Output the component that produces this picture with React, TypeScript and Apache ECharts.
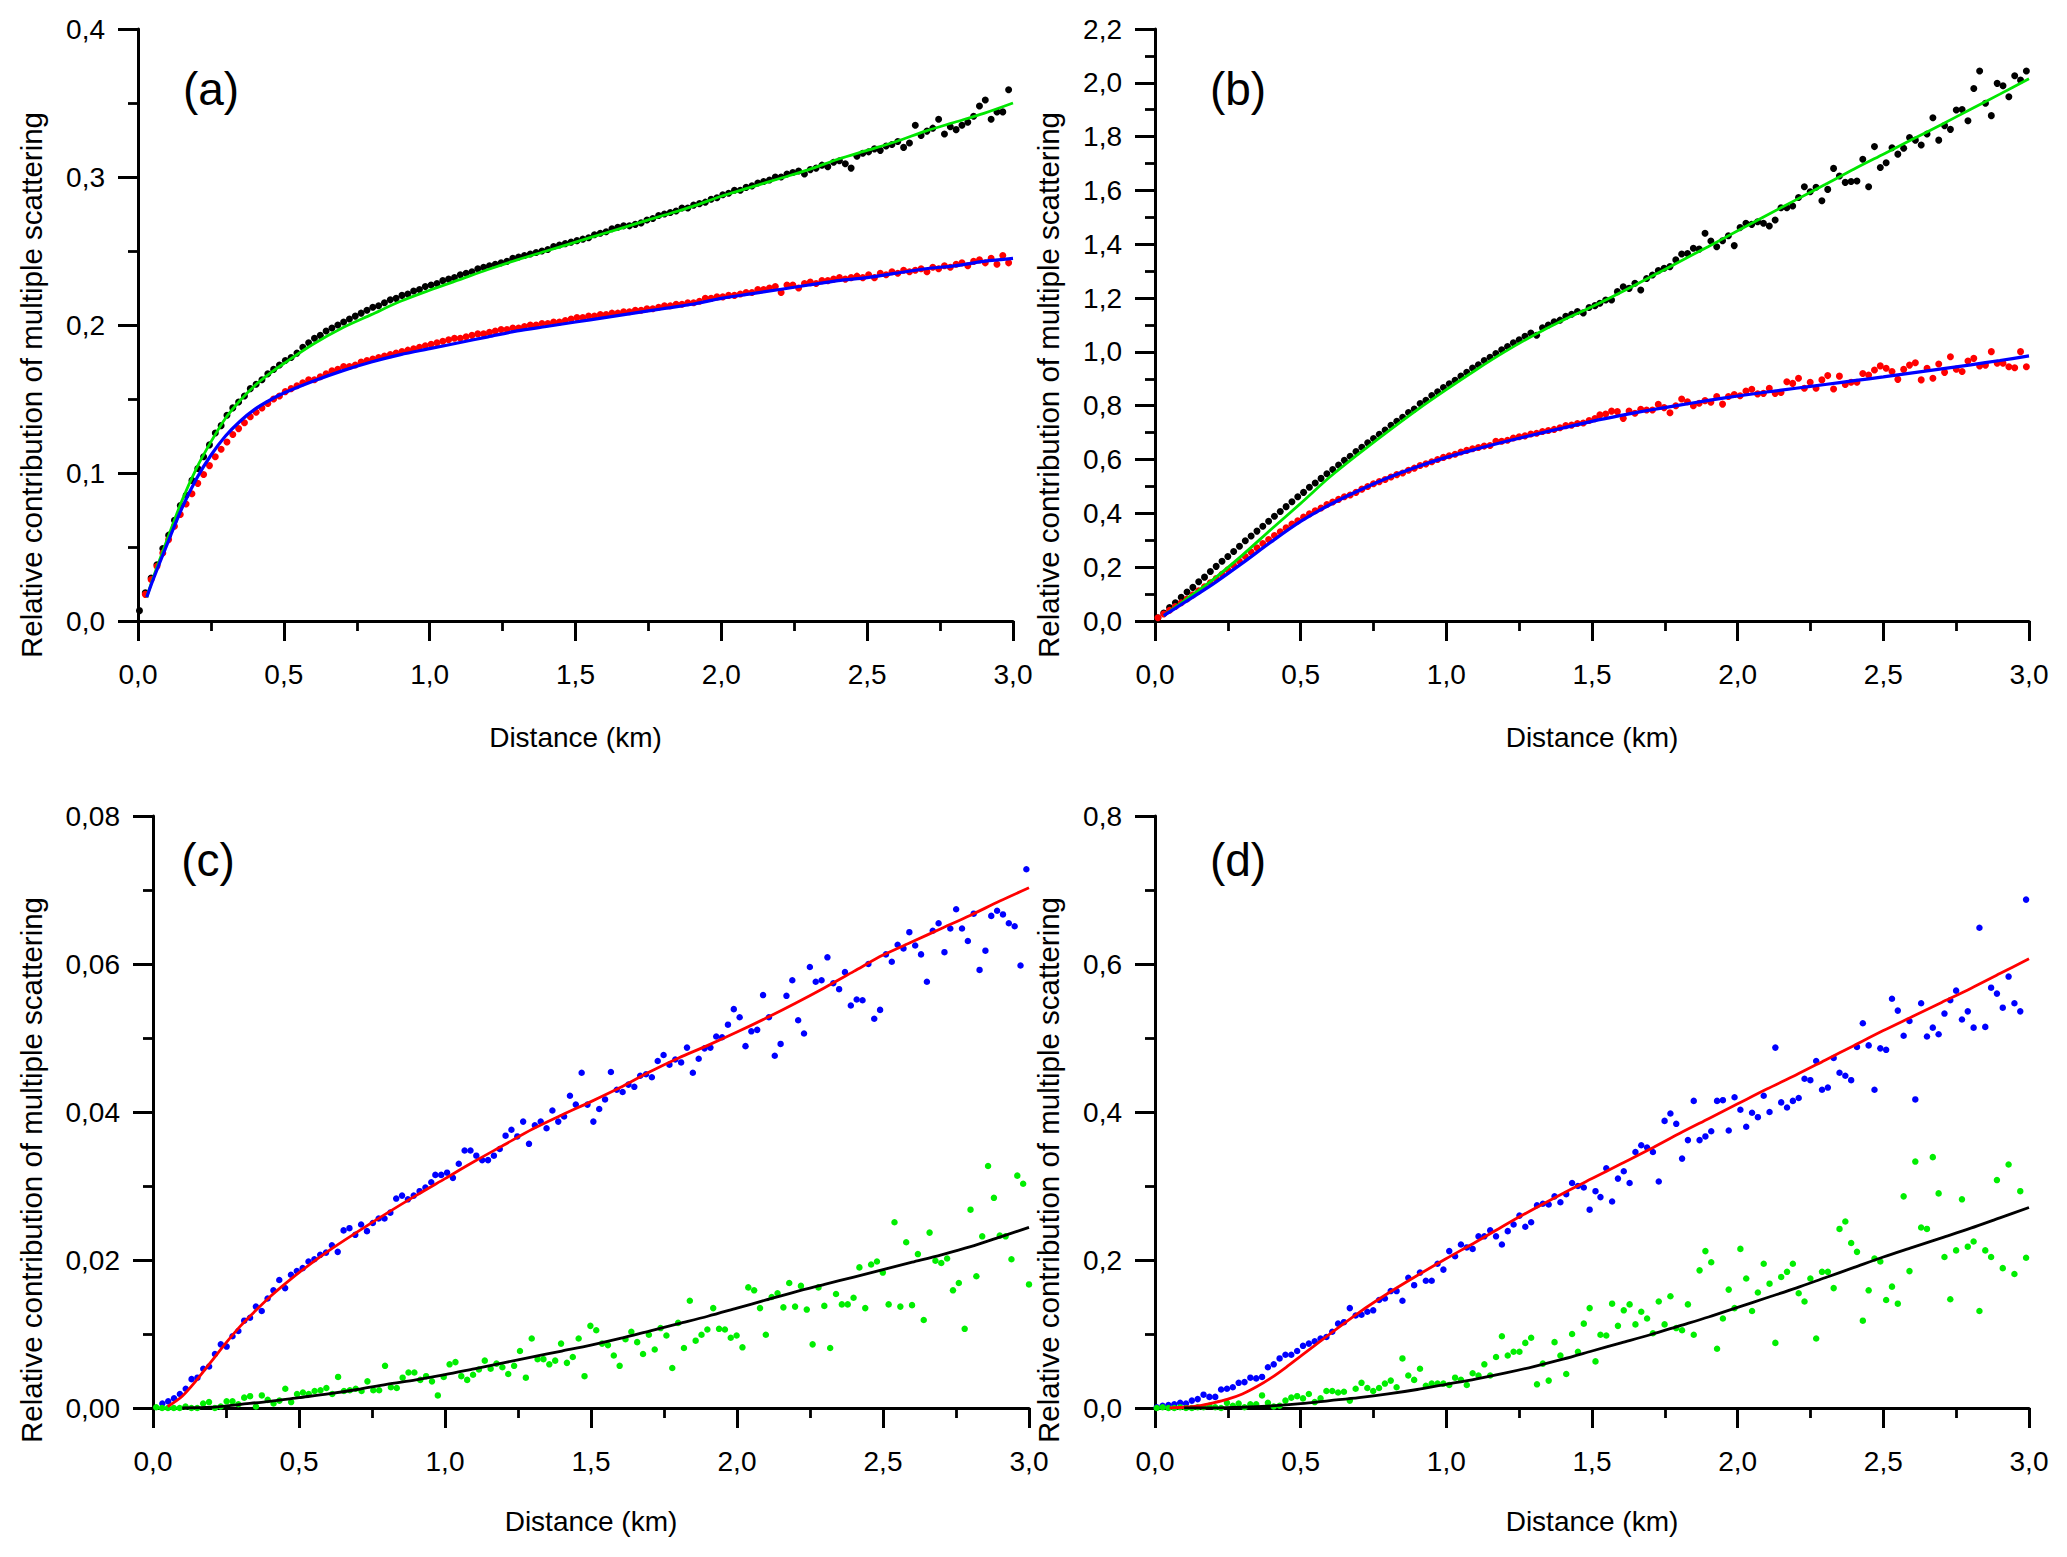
import React, { useEffect, useRef } from "react";
import * as echarts from "echarts";

const FONT = "'Liberation Sans', Arial, Helvetica, sans-serif";

// ---------- tick labels ----------
const X_LABELS = ["0,0", "0,5", "1,0", "1,5", "2,0", "2,5", "3,0"];
const Y_LABELS_A = ["0,0", "0,1", "0,2", "0,3", "0,4"];
const Y_LABELS_B = ["0,0", "0,2", "0,4", "0,6", "0,8", "1,0", "1,2", "1,4", "1,6", "1,8", "2,0", "2,2"];
const Y_LABELS_C = ["0,00", "0,02", "0,04", "0,06", "0,08"];
const Y_LABELS_D = ["0,0", "0,2", "0,4", "0,6", "0,8"];

const X_TITLE = "Distance (km)";
const Y_TITLE = "Relative contribution of multiple scattering";
const PANEL_LABELS = ["(a)", "(b)", "(c)", "(d)"];

// ---------- panel (a) ----------
const A_BLACK = [0.007,0.019,0.029,0.038,0.049,0.058,0.068,0.078,0.085,0.095,
0.103,0.111,0.119,0.127,0.132,0.139,0.144,0.148,0.152,0.157,
0.160,0.163,0.167,0.170,0.173,0.176,0.178,0.181,0.185,0.188,
0.191,0.193,0.196,0.198,0.200,0.202,0.204,0.206,0.208,0.210,
0.212,0.213,0.215,0.217,0.218,0.220,0.221,0.223,0.224,0.226,
0.227,0.228,0.230,0.231,0.232,0.234,0.235,0.236,0.238,0.239,
0.240,0.241,0.242,0.243,0.245,0.246,0.247,0.248,0.249,0.250,
0.251,0.253,0.254,0.255,0.256,0.257,0.258,0.259,0.261,0.262,
0.263,0.265,0.266,0.267,0.267,0.268,0.269,0.271,0.272,0.274,
0.275,0.276,0.277,0.279,0.279,0.281,0.282,0.283,0.285,0.286,
0.288,0.289,0.291,0.291,0.293,0.294,0.296,0.297,0.298,0.300,
0.300,0.302,0.303,0.304,0.302,0.305,0.306,0.308,0.307,0.310,
0.311,0.309,0.306,0.314,0.316,0.317,0.319,0.318,0.321,0.322,
0.324,0.320,0.323,0.335,0.328,0.331,0.333,0.339,0.329,0.334,
0.332,0.335,0.337,0.341,0.348,0.352,0.339,0.344,0.344,0.359];
const A_RED = [0.018,0.028,0.037,0.046,0.055,0.064,0.072,0.079,0.086,0.093,
0.099,0.105,0.111,0.116,0.121,0.126,0.130,0.134,0.138,0.141,
0.144,0.147,0.150,0.152,0.155,0.157,0.159,0.161,0.163,0.163,
0.165,0.167,0.169,0.170,0.172,0.172,0.173,0.175,0.176,0.177,
0.178,0.179,0.180,0.181,0.182,0.183,0.184,0.185,0.186,0.187,
0.188,0.189,0.190,0.191,0.191,0.192,0.193,0.194,0.194,0.195,
0.196,0.197,0.197,0.198,0.198,0.199,0.200,0.200,0.201,0.201,
0.202,0.202,0.203,0.204,0.205,0.205,0.206,0.206,0.207,0.207,
0.208,0.208,0.209,0.209,0.210,0.210,0.211,0.211,0.212,0.213,
0.213,0.214,0.214,0.215,0.215,0.216,0.218,0.218,0.219,0.219,
0.220,0.220,0.221,0.222,0.222,0.224,0.224,0.225,0.226,0.222,
0.227,0.227,0.225,0.228,0.229,0.228,0.230,0.230,0.231,0.232,
0.231,0.232,0.233,0.232,0.234,0.232,0.235,0.234,0.236,0.235,
0.237,0.236,0.237,0.238,0.236,0.239,0.238,0.240,0.239,0.241,
0.242,0.240,0.243,0.244,0.242,0.245,0.241,0.247,0.242];
const A_FIT_X = [0.03,0.05,0.1,0.15,0.2,0.25,0.3,0.35,0.4,0.45,0.5,0.6,0.7,0.8,0.9,1.0,1.1,1.2,1.3,1.4,1.5,1.6,1.7,1.8,1.9,2.0,2.1,2.2,2.3,2.4,2.5,2.6,2.7,2.8,2.9,3.0];
const A_GREEN_FIT = [0.016,0.028,0.055,0.081,0.103,0.121,0.137,0.149,0.159,0.167,0.174,0.187,0.198,0.207,0.216,0.2235,0.2305,0.2375,0.244,0.250,0.256,0.262,0.268,0.274,0.280,0.287,0.293,0.299,0.305,0.312,0.318,0.324,0.331,0.337,0.343,0.350];
const A_BLUE_FIT = [0.016,0.027,0.052,0.076,0.096,0.112,0.125,0.135,0.143,0.149,0.154,0.162,0.169,0.175,0.180,0.184,0.188,0.192,0.196,0.199,0.202,0.205,0.208,0.211,0.214,0.218,0.221,0.224,0.227,0.230,0.232,0.235,0.238,0.240,0.243,0.245];

// ---------- panel (b) ----------
const B_BLACK_1 = [0.012,0.030,0.050,0.068,0.088,0.108,0.125,0.146,0.163,0.184,
0.203,0.222,0.240,0.258,0.278,0.298,0.316,0.334,0.352,0.371,
0.389,0.407,0.425,0.443,0.462,0.478,0.497,0.513,0.530,0.547,
0.563,0.580,0.597,0.612,0.630,0.646,0.662,0.678,0.694,0.710,
0.727,0.742,0.757,0.775,0.788,0.808,0.820,0.838,0.852,0.868,
0.882,0.895,0.910,0.924,0.940,0.952,0.968,0.980,0.994,1.008,
1.020,1.034,1.045,1.058,1.070,1.062,1.090,1.100,1.112,1.118,
1.132,1.140,1.150,1.145,1.165,1.172];
const B_BLACK_2 = [1.181,1.193,1.193,1.224,1.242,1.236,1.255,1.230,1.273,1.286,
1.302,1.311,1.317,1.342,1.364,1.366,1.385,1.382,1.441,1.412,
1.391,1.413,1.432,1.395,1.462,1.478,1.474,1.484,1.478,1.468,
1.490,1.536,1.536,1.542,1.574,1.614,1.595,1.612,1.562,1.604,
1.682,1.654,1.630,1.633,1.635,1.716,1.614,1.763,1.685,1.703,
1.759,1.735,1.757,1.797,1.787,1.769,1.810,1.870,1.787,1.841,
1.827,1.899,1.901,1.859,1.979,2.044,1.924,1.878,1.998,1.989,
1.948,2.026,2.010,2.044];
const B_RED_1 = [0.012,0.026,0.040,0.054,0.068,0.082,0.097,0.112,0.127,0.142,
0.158,0.174,0.190,0.206,0.222,0.240,0.256,0.272,0.288,0.303,
0.318,0.332,0.346,0.360,0.372,0.386,0.398,0.410,0.420,0.433,
0.442,0.452,0.462,0.468,0.478,0.490,0.500,0.510,0.518,0.526,
0.535,0.544,0.550,0.560,0.568,0.578,0.584,0.592,0.600,0.608,
0.614,0.620,0.628,0.634,0.640,0.645,0.650,0.652,0.668,0.668,
0.672,0.680,0.685,0.688,0.695,0.698,0.704,0.708,0.712,0.718,
0.726,0.728,0.734,0.736,0.745,0.752];
const B_RED_2 = [0.766,0.769,0.780,0.778,0.753,0.780,0.772,0.787,0.784,0.784,
0.805,0.793,0.774,0.800,0.825,0.815,0.800,0.809,0.819,0.813,
0.834,0.806,0.834,0.842,0.837,0.855,0.861,0.844,0.846,0.865,
0.846,0.849,0.889,0.883,0.902,0.865,0.887,0.865,0.896,0.912,
0.862,0.910,0.879,0.887,0.887,0.920,0.914,0.933,0.948,0.939,
0.927,0.898,0.935,0.951,0.960,0.896,0.939,0.902,0.955,0.924,
0.982,0.936,0.927,0.966,0.976,0.948,0.951,1.001,0.958,0.958,
0.945,0.941,1.001,0.945];
const B_FIT_X = [0.03,0.1,0.2,0.3,0.4,0.5,0.6,0.7,0.8,0.9,1.0,1.1,1.2,1.3,1.4,1.5,1.6,1.7,1.8,1.9,2.0,2.1,2.2,2.3,2.4,2.5,2.6,2.7,2.8,2.9,3.0];
const B_GREEN_FIT = [0.02,0.075,0.155,0.245,0.342,0.437,0.535,0.622,0.705,0.785,0.86,0.932,1.0,1.062,1.118,1.168,1.222,1.278,1.335,1.392,1.45,1.508,1.565,1.622,1.68,1.735,1.79,1.845,1.902,1.958,2.015];
const B_BLUE_FIT = [0.02,0.068,0.138,0.215,0.295,0.37,0.432,0.485,0.532,0.573,0.608,0.638,0.666,0.692,0.717,0.742,0.764,0.784,0.802,0.82,0.836,0.851,0.865,0.879,0.893,0.907,0.922,0.937,0.952,0.968,0.985];

// ---------- panel (c) ----------
const C_BLUE_1 = [0.0006,0.0009,0.0013,0.0019,0.0026,0.0039,0.0041,0.0053,0.0056,0.0073,
0.0086,0.0083,0.0097,0.0104,0.0118,0.0122,0.0137,0.0131,0.0148,0.0159,
0.0173,0.0162,0.0180,0.0185,0.0189,0.0198,0.0201,0.0207,0.0210,0.0220,
0.0211,0.0240,0.0243,0.0234,0.0248,0.0239,0.0250,0.0256,0.0256,0.0264,
0.0283,0.0287,0.0282,0.0287,0.0293,0.0298,0.0305];
const C_BLUE_2 = [0.0315,0.0315,0.0318,0.0311,0.0330,0.0348,0.0348,0.0341,0.0335,0.0335,
0.0341,0.0350,0.0368,0.0376,0.0367,0.0387,0.0357,0.0382,0.0387,0.0378,
0.0402,0.0387,0.0394,0.0422,0.0410,0.0453,0.0410,0.0387,0.0404,0.0417,
0.0454,0.0430,0.0427,0.0437,0.0434,0.0449,0.0451,0.0447,0.0469,0.0477,
0.0464,0.0471,0.0467,0.0487,0.0453,0.0472,0.0486,0.0487,0.0502,0.0501,
0.0518,0.0539,0.0528,0.0489,0.0509,0.0511,0.0558,0.0528,0.0476,0.0492,
0.0557,0.0578,0.0524,0.0506,0.0596,0.0576,0.0578,0.0609,0.0574,0.0566,
0.0589,0.0544,0.0552,0.0551,0.0600,0.0526,0.0538,0.0613,0.0603,0.0626,
0.0621,0.0643,0.0625,0.0613,0.0576,0.0645,0.0655,0.0616,0.0648,0.0674,
0.0648,0.0631,0.0668,0.0592,0.0618,0.0665,0.0672,0.0667,0.0655,0.0651,
0.0598,0.0728];
const C_GREEN_1 = [0.0001,0,0,0,0,0.0002,0,0,0.0006,0.0008,
0,0.0002,0.0009,0.0009,0.0005,0.0014,0.0016,0.0002,0.0017,0.0011,
0.0006,0.0010,0.0026,0.0008,0.0019,0.0021,0.0019,0.0023,0.0024,0.0027,
0.0019,0.0042,0.0023,0.0024,0.0026,0.0023,0.0036,0.0024,0.0024,0.0057,
0.0028,0.0027,0.0041,0.0048,0.0048,0.0038,0.0043,0.0036,0.0017,0.0042,
0.0059,0.0062,0.0043,0.0038,0.0045,0.0052,0.0064,0.0053,0.0060,0.0055,
0.0046,0.0057,0.0077,0.0041,0.0094,0.0066,0.0066,0.0059,0.0064,0.0087,
0.0061,0.0069,0.0094,0.0043,0.0111,0.0105];
const C_GREEN_2 = [0.0087,0.0085,0.0071,0.0057,0.0093,0.0103,0.0089,0.0073,0.0099,0.0079,
0.0108,0.0098,0.0054,0.0115,0.0081,0.0145,0.0091,0.0099,0.0106,0.0135,
0.0107,0.0106,0.0095,0.0098,0.0082,0.0163,0.0159,0.0135,0.0099,0.0150,
0.0155,0.0136,0.0169,0.0137,0.0165,0.0133,0.0086,0.0163,0.0138,0.0081,
0.0154,0.0140,0.0140,0.0149,0.0190,0.0135,0.0194,0.0198,0.0183,0.0140,
0.0251,0.0137,0.0224,0.0139,0.0208,0.0119,0.0237,0.0199,0.0196,0.0202,
0.0159,0.0169,0.0107,0.0268,0.0178,0.0232,0.0327,0.0284,0.0233,0.0232,
0.0201,0.0314,0.0303,0.0167];
const C_RED_FIT_X = [0.05,0.1,0.15,0.2,0.25,0.3,0.35,0.4,0.45,0.5,0.6,0.7,0.8,0.9,1.0,1.1,1.2,1.3,1.4,1.5,1.6,1.7,1.8,1.9,2.0,2.1,2.2,2.3,2.4,2.5,2.6,2.7,2.8,2.9,3.0];
const C_RED_FIT = [0.0002,0.0016,0.0038,0.0063,0.0088,0.0111,0.0131,0.0150,0.0167,0.0183,0.0212,0.0238,0.0263,0.0287,0.0310,0.0333,0.0355,0.0377,0.0396,0.0414,0.0433,0.0454,0.0473,0.0490,0.0508,0.0527,0.0547,0.0568,0.0590,0.0612,0.0630,0.0648,0.0666,0.0685,0.0703];
const C_BLACK_FIT_X = [0.1,0.2,0.3,0.4,0.5,0.6,0.7,0.8,0.9,1.0,1.1,1.2,1.3,1.4,1.5,1.6,1.7,1.8,1.9,2.0,2.1,2.2,2.3,2.4,2.5,2.6,2.7,2.8,2.9,3.0];
const C_BLACK_FIT = [0.0,0.0001,0.0005,0.0009,0.0014,0.0019,0.0025,0.0032,0.0038,0.0045,0.0053,0.0061,0.0069,0.0077,0.0085,0.0094,0.0104,0.0114,0.0124,0.0135,0.0146,0.0157,0.0167,0.0177,0.0187,0.0197,0.0207,0.0218,0.0231,0.0244];

// ---------- panel (d) ----------
const D_BLUE_1 = [0.001,0.003,0.004,0.005,0.007,0.006,0.010,0.012,0.018,0.015,
0.015,0.025,0.026,0.028,0.034,0.035,0.041,0.040,0.042,0.055,
0.059,0.067,0.072,0.072,0.077,0.084,0.087,0.090,0.094,0.096,
0.103,0.114,0.116,0.135,0.125,0.126,0.130,0.132,0.146,0.148,
0.158,0.158,0.145,0.176,0.166,0.183,0.172,0.172,0.195,0.187,
0.212,0.205,0.221,0.217,0.215,0.232,0.232,0.240,0.232,0.221,
0.239,0.248,0.260,0.245,0.251,0.274,0.276,0.275,0.286,0.278,
0.289,0.304,0.300,0.298,0.268,0.293];
const D_BLUE_2 = [0.285,0.324,0.279,0.310,0.320,0.304,0.346,0.355,0.352,0.346,
0.306,0.388,0.398,0.384,0.337,0.362,0.415,0.362,0.367,0.374,
0.415,0.416,0.375,0.420,0.403,0.380,0.399,0.393,0.422,0.400,
0.487,0.413,0.406,0.415,0.419,0.445,0.443,0.469,0.430,0.433,
0.473,0.453,0.449,0.443,0.488,0.520,0.490,0.430,0.486,0.484,
0.553,0.537,0.503,0.523,0.417,0.547,0.502,0.514,0.505,0.533,
0.551,0.564,0.525,0.536,0.514,0.649,0.515,0.568,0.560,0.541,
0.583,0.547,0.536,0.687];
const D_GREEN_1 = [0.000,0.001,0.000,0.000,0.001,0.000,0.000,0.001,0.001,0.003,
0.001,0.000,0.007,0.003,0.006,0.001,0.005,0.005,0.017,0.007,
0.002,0.003,0.010,0.014,0.016,0.013,0.019,0.008,0.013,0.023,
0.023,0.021,0.022,0.010,0.026,0.034,0.027,0.023,0.027,0.033,
0.037,0.028,0.067,0.044,0.038,0.053,0.030,0.033,0.033,0.033,
0.031,0.041,0.038,0.031,0.047,0.044,0.059,0.044,0.069,0.097,
0.071,0.076,0.076,0.088,0.095,0.032,0.060,0.037,0.089,0.071,
0.046,0.100,0.076,0.114,0.135,0.063];
const D_GREEN_2 = [0.099,0.098,0.141,0.111,0.132,0.140,0.113,0.130,0.121,0.101,
0.144,0.113,0.151,0.108,0.105,0.140,0.099,0.186,0.212,0.197,
0.080,0.121,0.160,0.135,0.215,0.175,0.131,0.156,0.195,0.168,
0.088,0.177,0.184,0.195,0.155,0.144,0.175,0.094,0.184,0.184,
0.162,0.242,0.252,0.223,0.211,0.118,0.159,0.202,0.198,0.146,
0.164,0.141,0.286,0.185,0.333,0.244,0.242,0.339,0.290,0.204,
0.147,0.213,0.282,0.218,0.225,0.131,0.213,0.204,0.308,0.189,
0.329,0.181,0.293,0.203];
const D_RED_FIT = [0.0,0.001,0.003,0.007,0.012,0.019,0.029,0.041,0.055,0.070,0.100,0.129,0.155,0.179,0.202,0.224,0.247,0.269,0.290,0.310,0.330,0.350,0.371,0.391,0.411,0.431,0.450,0.470,0.490,0.510,0.529,0.548,0.567,0.587,0.607];
const D_BLACK_FIT_X = [0.1,0.2,0.3,0.4,0.5,0.6,0.7,0.8,0.9,1.0,1.1,1.2,1.3,1.4,1.5,1.6,1.7,1.8,1.9,2.0,2.1,2.2,2.3,2.4,2.5,2.6,2.7,2.8,2.9,3.0];
const D_BLACK_FIT = [0.0,0.0,0.001,0.003,0.006,0.010,0.014,0.019,0.025,0.032,0.039,0.047,0.056,0.066,0.077,0.088,0.099,0.111,0.123,0.136,0.149,0.162,0.176,0.190,0.204,0.217,0.230,0.243,0.257,0.271];

// ---------- helpers ----------
function spread(vals: number[], x0: number, x1: number): number[][] {
  const n = vals.length;
  const step = n > 1 ? (x1 - x0) / (n - 1) : 0;
  return vals.map((v, i) => [x0 + i * step, v]);
}
function zip(xs: number[], ys: number[]): number[][] {
  return ys.map((y, i) => [xs[i], y]);
}

const BLACK = "#000000";
const RED = "#ff0000";
const BLUE = "#0000ff";
const GREEN_DOT = "#00ee00";
const GREEN_LINE = "#00e600";

const GRIDS = [
  { left: 138, top: 29, width: 875, height: 592 },
  { left: 1155, top: 29, width: 874, height: 592 },
  { left: 153, top: 816, width: 876, height: 592 },
  { left: 1155, top: 816, width: 874, height: 592 },
];

const Y_AXES = [
  { max: 0.4, interval: 0.1, labels: Y_LABELS_A },
  { max: 2.2, interval: 0.2, labels: Y_LABELS_B },
  { max: 0.08, interval: 0.02, labels: Y_LABELS_C },
  { max: 0.8, interval: 0.2, labels: Y_LABELS_D },
];

function scatter(idx: number, data: number[][], color: string, size: number) {
  return {
    type: "scatter",
    xAxisIndex: idx,
    yAxisIndex: idx,
    data,
    symbol: "circle",
    symbolSize: size,
    itemStyle: { color, opacity: 1 },
    silent: true,
    z: 2,
  };
}
function fit(idx: number, data: number[][], color: string, width: number) {
  return {
    type: "line",
    xAxisIndex: idx,
    yAxisIndex: idx,
    data,
    showSymbol: false,
    symbol: "none",
    smooth: 0.3,
    lineStyle: { color, width },
    silent: true,
    z: 3,
  };
}

const AXIS_LINE = { show: true, onZero: false, lineStyle: { color: BLACK, width: 3 } };
const AXIS_TICK = { show: true, inside: false, length: 20, lineStyle: { color: BLACK, width: 3 } };
const MINOR_TICK = { show: true, splitNumber: 2, length: 10, lineStyle: { color: BLACK, width: 2.8 } };

export default function App() {
  const ref = useRef<HTMLDivElement>(null);

  useEffect(() => {
    if (!ref.current) return;
    const chart = echarts.init(ref.current, undefined, { renderer: "svg" });

    const xAxis = GRIDS.map((_, i) => ({
      type: "value",
      gridIndex: i,
      min: 0,
      max: 3,
      interval: 0.5,
      axisLine: AXIS_LINE,
      axisTick: AXIS_TICK,
      minorTick: MINOR_TICK,
      splitLine: { show: false },
      minorSplitLine: { show: false },
      axisLabel: {
        show: true,
        margin: 39,
        fontSize: 28,
        fontFamily: FONT,
        color: BLACK,
        showMinLabel: true,
        showMaxLabel: true,
        formatter: (v: number) => X_LABELS[Math.round(v / 0.5)] ?? "",
      },
    }));

    const yAxis = Y_AXES.map((ax, i) => ({
      type: "value",
      gridIndex: i,
      min: 0,
      max: ax.max,
      interval: ax.interval,
      axisLine: AXIS_LINE,
      axisTick: AXIS_TICK,
      minorTick: MINOR_TICK,
      splitLine: { show: false },
      minorSplitLine: { show: false },
      axisLabel: {
        show: true,
        margin: 33,
        fontSize: 28,
        fontFamily: FONT,
        color: BLACK,
        showMinLabel: true,
        showMaxLabel: true,
        formatter: (v: number) => ax.labels[Math.round(v / ax.interval)] ?? "",
      },
    }));

    const series = [
      // (a)
      scatter(0, spread(A_BLACK, 0.005, 2.985), BLACK, 7),
      scatter(0, spread(A_RED, 0.025, 2.985), RED, 7),
      fit(0, zip(A_FIT_X, A_GREEN_FIT), GREEN_LINE, 2.8),
      fit(0, zip(A_FIT_X, A_BLUE_FIT), BLUE, 3.2),
      // (b)
      scatter(1, spread(B_BLACK_1, 0.01, 1.51).concat(spread(B_BLACK_2, 1.527, 2.991)), BLACK, 7),
      scatter(1, spread(B_RED_1, 0.01, 1.51).concat(spread(B_RED_2, 1.527, 2.991)), RED, 7),
      fit(1, zip(B_FIT_X, B_GREEN_FIT), GREEN_LINE, 2.8),
      fit(1, zip(B_FIT_X, B_BLUE_FIT), BLUE, 3.2),
      // (c)
      scatter(2, spread(C_BLUE_1, 0.032, 0.953).concat(spread(C_BLUE_2, 0.967, 2.991)), BLUE, 6.5),
      scatter(2, spread(C_GREEN_1, 0.011, 1.518).concat(spread(C_GREEN_2, 1.538, 3.0)), GREEN_DOT, 6.5),
      fit(2, zip(C_RED_FIT_X, C_RED_FIT), RED, 2.8),
      fit(2, zip(C_BLACK_FIT_X, C_BLACK_FIT), BLACK, 2.8),
      // (d)
      scatter(3, spread(D_BLUE_1, 0.006, 1.512).concat(spread(D_BLUE_2, 1.529, 2.99)), BLUE, 6.5),
      scatter(3, spread(D_GREEN_1, 0.006, 1.512).concat(spread(D_GREEN_2, 1.529, 2.99)), GREEN_DOT, 6.5),
      fit(3, zip(C_RED_FIT_X, D_RED_FIT), RED, 2.8),
      fit(3, zip(D_BLACK_FIT_X, D_BLACK_FIT), BLACK, 2.8),
    ];

    const texts: any[] = [];
    const yTitlePos = [
      [31, 385],
      [1048, 385],
      [31, 1170],
      [1048, 1170],
    ];
    const labelPos = [
      [211, 89],
      [1238, 89],
      [208, 860],
      [1238, 860],
    ];
    GRIDS.forEach((g, i) => {
      const isTop = i < 2;
      texts.push({
        type: "text",
        x: g.left + g.width / 2,
        y: isTop ? 737 : 1521,
        silent: true,
        style: {
          text: X_TITLE,
          fill: BLACK,
          font: `28px ${FONT}`,
          align: "center",
          verticalAlign: "middle",
        },
      });
      texts.push({
        type: "text",
        x: yTitlePos[i][0],
        y: yTitlePos[i][1],
        rotation: Math.PI / 2,
        silent: true,
        style: {
          text: Y_TITLE,
          fill: BLACK,
          font: `29.5px ${FONT}`,
          align: "center",
          verticalAlign: "middle",
        },
      });
      texts.push({
        type: "text",
        x: labelPos[i][0],
        y: labelPos[i][1],
        silent: true,
        style: {
          text: PANEL_LABELS[i],
          fill: BLACK,
          font: `46px ${FONT}`,
          align: "center",
          verticalAlign: "middle",
        },
      });
    });

    chart.setOption({
      animation: false,
      backgroundColor: "#ffffff",
      grid: GRIDS.map((g) => ({ ...g, containLabel: false })),
      xAxis,
      yAxis,
      series,
      graphic: texts,
    });

    return () => chart.dispose();
  }, []);

  return (
    <div
      ref={ref}
      style={{ position: "absolute", left: 0, top: 0, width: 2067, height: 1557, background: "#fff" }}
    />
  );
}
